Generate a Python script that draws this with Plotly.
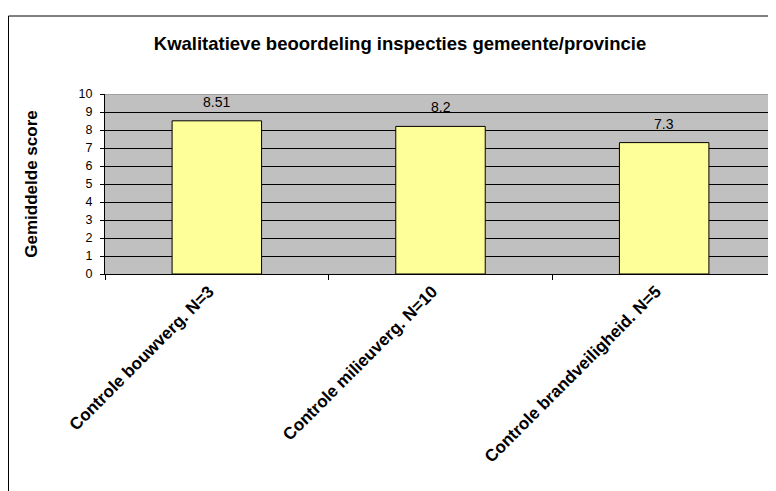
import plotly.graph_objects as go

categories = ["Controle bouwverg. N=3", "Controle milieuverg. N=10", "Controle brandveiligheid. N=5"]
scores = [8.51, 8.2, 7.3]
score_labels = ["8.51", "8.2", "7.3"]

FONT = "Liberation Sans, Arial, sans-serif"

# the page body has an 8px margin, so the figure is 8px smaller than the window
W, H = 768, 483

fig = go.Figure(go.Bar(
    x=categories, y=scores,
    marker=dict(color="#FFFF99", line=dict(color="black", width=1)),
))

# value labels above bars
for cat, val, lab in zip(categories, scores, score_labels):
    fig.add_annotation(x=cat, y=val, text=lab, showarrow=False,
                       yanchor="bottom", yshift=9,
                       font=dict(size=14, family=FONT, color="black"))

fig.update_layout(
    width=W, height=H,
    margin=dict(l=97, r=0, t=86, b=217),
    paper_bgcolor="white", plot_bgcolor="#C0C0C0",
    font=dict(family=FONT, color="black", size=12),
    bargap=0.6,
    showlegend=False,
    title=dict(
        text="<b>Kwalitatieve beoordeling inspecties gemeente/provincie</b>",
        x=392 / W, xanchor="center", y=1 - 36 / H, yanchor="middle",
        font=dict(size=18.5, family=FONT),
    ),
    xaxis=dict(
        tickangle=-45, tickfont=dict(size=17, family=FONT),
        ticks="outside", tickson="boundaries", ticklen=5, tickcolor="black",
        ticklabelshift=-8,
        showline=True, linecolor="black", linewidth=1,
        showgrid=False,
    ),
    yaxis=dict(
        range=[0, 10], dtick=1, tickfont=dict(size=12.5, family=FONT),
        ticks="outside", ticklen=4, tickcolor="black", ticklabelstandoff=5,
        showline=True, linecolor="black", linewidth=1,
        showgrid=True, gridcolor="black", gridwidth=1,
        zeroline=False,
        title=dict(text="<b>Gemiddelde score</b>", font=dict(size=17, family=FONT), standoff=36),
    ),
)

# bold category labels
fig.update_xaxes(ticktext=[f"<b>{c}</b>" for c in categories], tickvals=categories)

# grey top edge of plot area
fig.add_shape(type="line", xref="paper", yref="y", x0=0, x1=1, y0=10, y1=10,
              line=dict(color="#808080", width=1))
# outer chart border
fig.add_shape(type="rect", xref="paper", yref="paper",
              x0=-96.5 / 671, x1=1.05, y0=-1.5, y1=1 + 78 / 180,
              line=dict(color="black", width=1), layer="below")

fig.write_html("out.html")
